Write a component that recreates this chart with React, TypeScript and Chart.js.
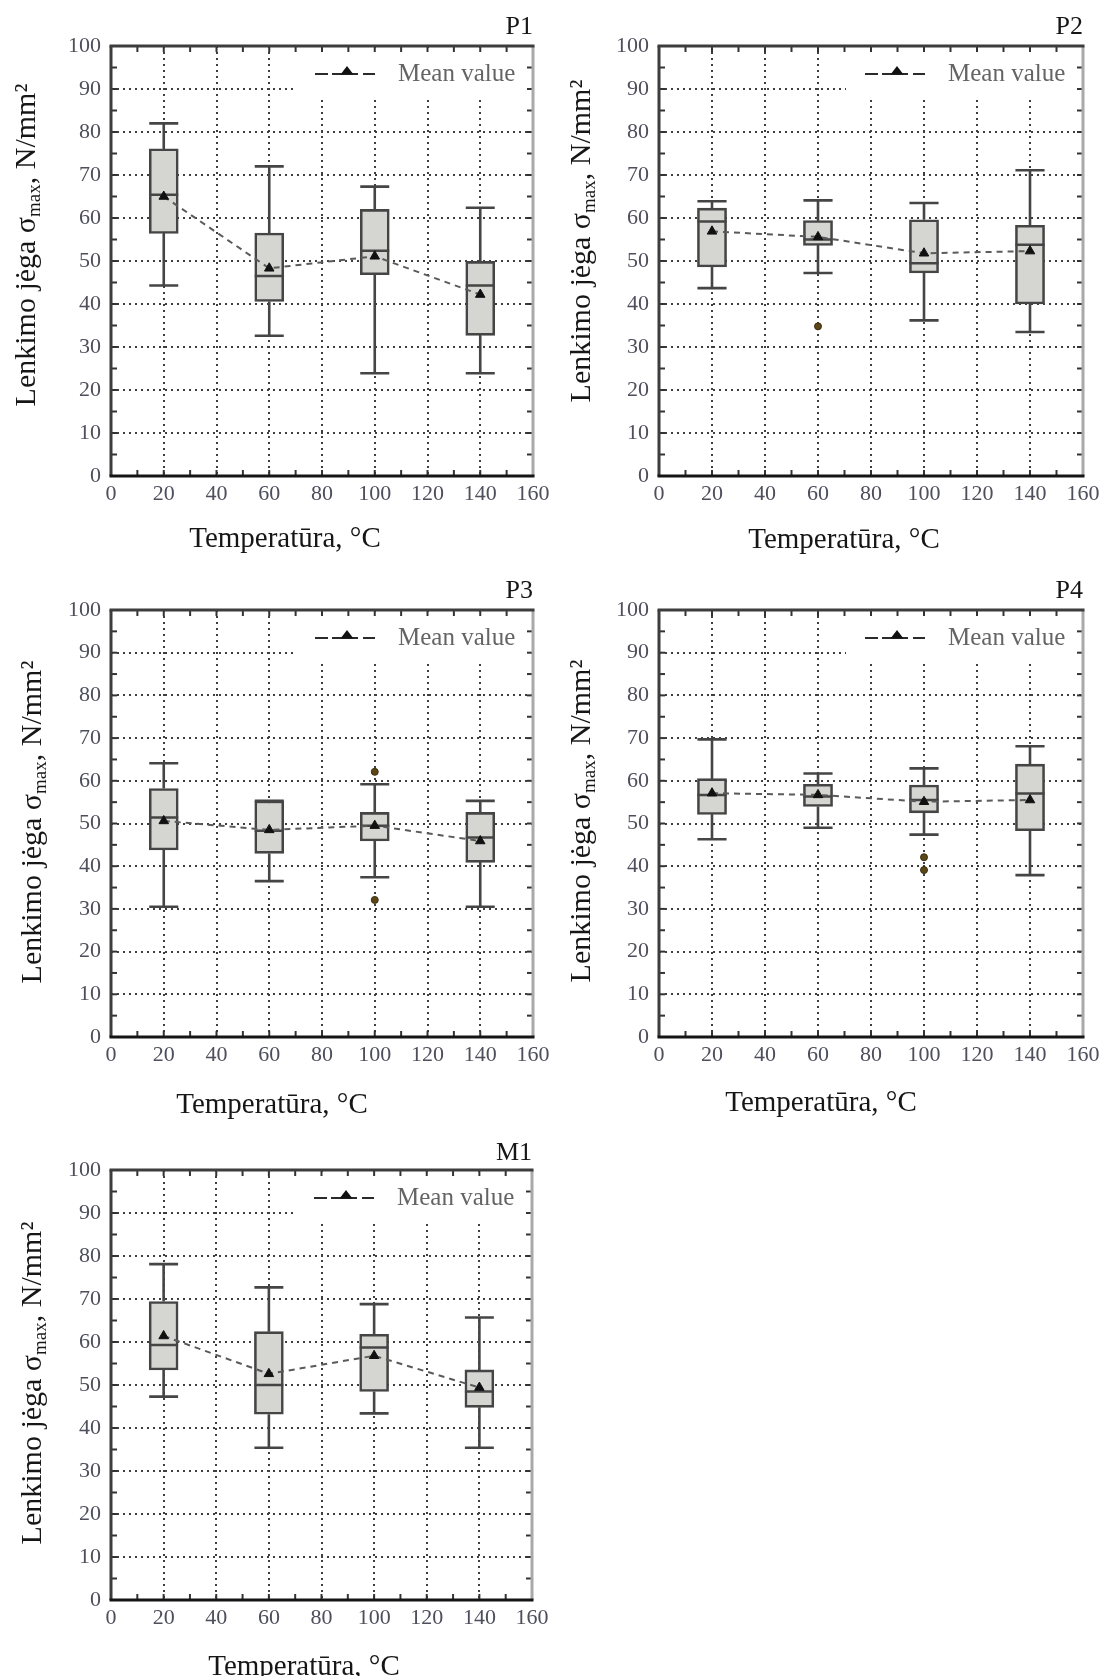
import React, { useEffect, useRef } from "react";
import { Chart, registerables } from "chart.js";

Chart.register(...registerables);

// Test temperatures, °C
const TEMPERATURES = [20, 60, 100, 140];
const X_TICKS = [0, 20, 40, 60, 80, 100, 120, 140, 160];
const Y_TICKS = [0, 10, 20, 30, 40, 50, 60, 70, 80, 90, 100];

// P1: whisker ends, quartiles, median, mean (N/mm²)
const P1_MIN = [44.3, 32.6, 23.9, 23.9];
const P1_Q1 = [56.4, 40.6, 46.8, 32.7];
const P1_MEDIAN = [65.4, 46.5, 52.4, 44.3];
const P1_Q3 = [76.1, 56.5, 62.0, 49.9];
const P1_MAX = [82.0, 72.0, 67.3, 62.4];
const P1_MEAN = [65.0, 48.3, 51.1, 42.2];
const P1_OUTLIER_T: number[] = [];
const P1_OUTLIER_V: number[] = [];

// P2
const P2_MIN = [43.7, 47.2, 36.2, 33.5];
const P2_Q1 = [48.6, 53.6, 47.2, 40.0];
const P2_MEDIAN = [59.2, 55.0, 49.5, 53.8];
const P2_Q3 = [62.3, 59.4, 59.6, 58.3];
const P2_MAX = [63.9, 64.1, 63.5, 71.1];
const P2_MEAN = [56.9, 55.6, 51.8, 52.3];
const P2_OUTLIER_T = [60];
const P2_OUTLIER_V = [34.8];

// P3
const P3_MIN = [30.5, 36.5, 37.4, 30.5];
const P3_Q1 = [43.8, 43.0, 45.9, 40.9];
const P3_MEDIAN = [51.4, 48.3, 49.5, 46.7];
const P3_Q3 = [58.2, 55.3, 52.6, 52.6];
const P3_MAX = [64.1, 55.3, 59.2, 55.3];
const P3_MEAN = [50.6, 48.5, 49.5, 45.9];
const P3_OUTLIER_T = [100, 100];
const P3_OUTLIER_V = [62.1, 32.1];

// P4
const P4_MIN = [46.3, 49.0, 47.4, 37.9];
const P4_Q1 = [52.1, 54.0, 52.5, 48.3];
const P4_MEDIAN = [56.7, 56.3, 55.5, 57.0];
const P4_Q3 = [60.5, 59.2, 59.0, 63.9];
const P4_MAX = [69.7, 61.7, 62.9, 68.1];
const P4_MEAN = [57.1, 56.7, 55.1, 55.5];
const P4_OUTLIER_T = [100, 100];
const P4_OUTLIER_V = [42.1, 39.1];

// M1
const M1_MIN = [47.3, 35.4, 43.4, 35.4];
const M1_Q1 = [53.5, 43.2, 48.5, 44.8];
const M1_MEDIAN = [59.3, 50.0, 58.7, 48.5];
const M1_Q3 = [69.4, 62.4, 61.8, 53.5];
const M1_MAX = [78.1, 72.7, 68.8, 65.7];
const M1_MEAN = [61.4, 52.6, 56.8, 49.4];
const M1_OUTLIER_T: number[] = [];
const M1_OUTLIER_V: number[] = [];

const X_TITLE = "Temperatūra, °C";
const Y_TITLE_MAIN = "Lenkimo jėga σ";
const Y_TITLE_SUB = "max";
const Y_TITLE_UNIT = ", N/mm²";
const LEGEND_LABEL = "Mean value";

type Series = {
  name: string;
  min: number[];
  q1: number[];
  median: number[];
  q3: number[];
  max: number[];
  mean: number[];
  outT: number[];
  outV: number[];
};

const SERIES: Series[] = [
  { name: "P1", min: P1_MIN, q1: P1_Q1, median: P1_MEDIAN, q3: P1_Q3, max: P1_MAX, mean: P1_MEAN, outT: P1_OUTLIER_T, outV: P1_OUTLIER_V },
  { name: "P2", min: P2_MIN, q1: P2_Q1, median: P2_MEDIAN, q3: P2_Q3, max: P2_MAX, mean: P2_MEAN, outT: P2_OUTLIER_T, outV: P2_OUTLIER_V },
  { name: "P3", min: P3_MIN, q1: P3_Q1, median: P3_MEDIAN, q3: P3_Q3, max: P3_MAX, mean: P3_MEAN, outT: P3_OUTLIER_T, outV: P3_OUTLIER_V },
  { name: "P4", min: P4_MIN, q1: P4_Q1, median: P4_MEDIAN, q3: P4_Q3, max: P4_MAX, mean: P4_MEAN, outT: P4_OUTLIER_T, outV: P4_OUTLIER_V },
  { name: "M1", min: M1_MIN, q1: M1_Q1, median: M1_MEDIAN, q3: M1_Q3, max: M1_MAX, mean: M1_MEAN, outT: M1_OUTLIER_T, outV: M1_OUTLIER_V },
];

// Panel placement on the page and inside each canvas
type Frame = {
  left: number;
  top: number;
  width: number;
  height: number;
  plot: [number, number, number, number]; // left, top, right, bottom
  nameBase: number;
  xTitle: [number, number]; // centre x, baseline y
  yTitle: [number, number]; // baseline x, centre y
};

const FRAMES: Frame[] = [
  { left: 0, top: 0, width: 553, height: 560, plot: [111, 46, 533, 476], nameBase: 34, xTitle: [285, 547], yTitle: [35, 245] },
  { left: 553, top: 0, width: 554, height: 560, plot: [106, 46, 530, 476], nameBase: 34, xTitle: [291, 548], yTitle: [37, 241] },
  { left: 0, top: 560, width: 553, height: 560, plot: [111, 50, 533, 477], nameBase: 38, xTitle: [272, 553], yTitle: [41, 262] },
  { left: 553, top: 560, width: 554, height: 560, plot: [106, 50, 530, 477], nameBase: 38, xTitle: [268, 551], yTitle: [37, 261] },
  { left: 0, top: 1120, width: 553, height: 556, plot: [111, 50, 532, 480], nameBase: 40, xTitle: [304, 555], yTitle: [41, 263] },
];

const FONT = '"Liberation Serif", "DejaVu Serif", serif';
const BOX_HALF = 5.5; // half box width in °C
const X_AXIS_H = 40;
const MINOR_X = 10;
const MINOR_Y = 5;
const INK = "#454545";
const BOX_FILL = "#d5d5d1";
const GRID = "#3e3e3e";
const TICK_TEXT = "#4e4e5c";

function line(ctx: CanvasRenderingContext2D, x1: number, y1: number, x2: number, y2: number) {
  ctx.beginPath();
  ctx.moveTo(x1, y1);
  ctx.lineTo(x2, y2);
  ctx.stroke();
}

function decorations(s: Series, f: Frame) {
  return {
    id: "panelDecor",
    beforeDatasetsDraw(chart: any) {
      // legend background hides the grid behind it
      const { ctx, chartArea: a } = chart;
      ctx.save();
      ctx.fillStyle = "#ffffff";
      ctx.fillRect(a.right - 237, a.top + 2, 235, 50);
      ctx.restore();
    },
    afterDatasetsDraw(chart: any) {
      const { ctx, chartArea: a } = chart;
      const xs = chart.scales.x;
      const ys = chart.scales.y;
      ctx.save();
      // inward tick marks on all four sides
      ctx.strokeStyle = "#333333";
      ctx.lineWidth = 2;
      for (let v = Y_TICKS[0]; v <= Y_TICKS[Y_TICKS.length - 1]; v += MINOR_Y) {
        const y = ys.getPixelForValue(v);
        line(ctx, a.left, y, a.left + 6, y);
        line(ctx, a.right - 6, y, a.right, y);
      }
      for (let v = X_TICKS[0]; v <= X_TICKS[X_TICKS.length - 1]; v += MINOR_X) {
        const x = xs.getPixelForValue(v);
        line(ctx, x, a.bottom, x, a.bottom - 6);
        line(ctx, x, a.top, x, a.top + 6);
      }
      // plot frame
      ctx.lineWidth = 3;
      ctx.strokeStyle = "#a9a9a9";
      line(ctx, a.right, a.top, a.right, a.bottom);
      ctx.strokeStyle = "#3d3d3d";
      line(ctx, a.left - 1.5, a.top, a.right + 1.5, a.top);
      line(ctx, a.left, a.top, a.left, a.bottom);
      ctx.strokeStyle = "#151515";
      line(ctx, a.left - 1.5, a.bottom, a.right + 1.5, a.bottom);

      // legend entry: dashed line with a triangle, then the label
      const ly = a.top + 28;
      ctx.strokeStyle = "#2a2a2a";
      ctx.lineWidth = 2;
      line(ctx, a.right - 218, ly, a.right - 205, ly);
      line(ctx, a.right - 201, ly, a.right - 175, ly);
      line(ctx, a.right - 170, ly, a.right - 158, ly);
      ctx.fillStyle = "#111111";
      ctx.beginPath();
      ctx.moveTo(a.right - 186, ly - 8);
      ctx.lineTo(a.right - 179.5, ly + 0.5);
      ctx.lineTo(a.right - 192.5, ly + 0.5);
      ctx.closePath();
      ctx.fill();
      ctx.font = `25px ${FONT}`;
      ctx.fillStyle = "#646464";
      ctx.textAlign = "left";
      ctx.textBaseline = "alphabetic";
      ctx.fillText(LEGEND_LABEL, a.right - 135, a.top + 35);
      ctx.restore();
    },
    afterDraw(chart: any) {
      const { ctx, chartArea: a } = chart;
      ctx.save();
      ctx.fillStyle = "#161616";
      ctx.textBaseline = "alphabetic";
      // panel name
      ctx.font = `26px ${FONT}`;
      ctx.textAlign = "right";
      ctx.fillText(s.name, a.right, f.nameBase);
      // x axis title
      ctx.font = `29px ${FONT}`;
      ctx.textAlign = "center";
      ctx.fillText(X_TITLE, f.xTitle[0], f.xTitle[1]);
      // y axis title with subscript
      const parts = [
        { t: Y_TITLE_MAIN, size: 30, dy: 0 },
        { t: Y_TITLE_SUB, size: 19, dy: 5 },
        { t: Y_TITLE_UNIT, size: 30, dy: 0 },
      ];
      let total = 0;
      const widths = parts.map((p) => {
        ctx.font = `${p.size}px ${FONT}`;
        const w = ctx.measureText(p.t).width;
        total += w;
        return w;
      });
      ctx.translate(f.yTitle[0], f.yTitle[1]);
      ctx.rotate(-Math.PI / 2);
      ctx.textAlign = "left";
      let x = -total / 2;
      parts.forEach((p, i) => {
        ctx.font = `${p.size}px ${FONT}`;
        ctx.fillText(p.t, x, p.dy);
        x += widths[i];
      });
      ctx.restore();
    },
  };
}

function makeConfig(s: Series, f: Frame): any {
  const [pl, pt, pr, pb] = f.plot;
  const span = X_TICKS[X_TICKS.length - 1] - X_TICKS[0];
  const barPx = ((pr - pl) / span) * BOX_HALF * 2;

  const whiskers: any[] = [];
  const caps: any[] = [];
  const medians: any[] = [];
  TEMPERATURES.forEach((t, i) => {
    whiskers.push(
      { x: t, y: s.min[i] }, { x: t, y: s.q1[i] }, { x: t, y: null },
      { x: t, y: s.q3[i] }, { x: t, y: s.max[i] }, { x: t, y: null }
    );
    caps.push(
      { x: t - BOX_HALF, y: s.min[i] }, { x: t + BOX_HALF, y: s.min[i] }, { x: t, y: null },
      { x: t - BOX_HALF, y: s.max[i] }, { x: t + BOX_HALF, y: s.max[i] }, { x: t, y: null }
    );
    medians.push({ x: t - BOX_HALF, y: s.median[i] }, { x: t + BOX_HALF, y: s.median[i] }, { x: t, y: null });
  });
  const boxes = TEMPERATURES.map((t, i) => ({ x: t, y: [s.q1[i], s.q3[i]] }));
  const means = TEMPERATURES.map((t, i) => ({ x: t, y: s.mean[i] }));
  const outliers = s.outT.map((t, i) => ({ x: t, y: s.outV[i] }));

  const tickFont = { family: FONT, size: 22 };

  return {
    type: "line",
    data: {
      datasets: [
        { type: "line", data: whiskers, borderColor: INK, borderWidth: 2.6, pointRadius: 0, spanGaps: false, order: 5 },
        { type: "line", data: caps, borderColor: INK, borderWidth: 2.6, pointRadius: 0, spanGaps: false, order: 5 },
        {
          type: "bar", data: boxes, backgroundColor: BOX_FILL, borderColor: INK, borderWidth: 2.6,
          borderSkipped: false, barThickness: barPx, order: 4,
        },
        { type: "line", data: medians, borderColor: INK, borderWidth: 2.5, pointRadius: 0, spanGaps: false, order: 3 },
        {
          type: "scatter", data: outliers, pointRadius: 3.5, pointBackgroundColor: "#5b4716",
          pointBorderColor: "#3a2e10", pointBorderWidth: 1, order: 2,
        },
        {
          type: "line", data: means, borderColor: "#5a5a5a", borderWidth: 2, borderDash: [6, 5],
          pointStyle: "triangle", pointRadius: 5.5, pointBackgroundColor: "#111111",
          pointBorderColor: "#111111", pointBorderWidth: 1, tension: 0, order: 1,
        },
      ],
    },
    options: {
      animation: false,
      responsive: false,
      maintainAspectRatio: false,
      devicePixelRatio: 1,
      layout: { padding: { left: 0, top: pt, right: f.width - pr, bottom: f.height - pb - X_AXIS_H } },
      plugins: { legend: { display: false }, tooltip: { enabled: false }, title: { display: false } },
      scales: {
        x: {
          type: "linear",
          min: X_TICKS[0],
          max: X_TICKS[X_TICKS.length - 1],
          offset: false,
          afterBuildTicks: (sc: any) => { sc.ticks = X_TICKS.map((v) => ({ value: v })); },
          afterFit: (sc: any) => { sc.height = X_AXIS_H; sc.paddingLeft = 0; sc.paddingRight = 0; },
          grid: { offset: false, color: GRID, lineWidth: 2, drawTicks: false },
          border: { display: false, dash: [2, 4] },
          ticks: { font: tickFont, color: TICK_TEXT, padding: 5, maxRotation: 0, autoSkip: false },
        },
        y: {
          type: "linear",
          min: Y_TICKS[0],
          max: Y_TICKS[Y_TICKS.length - 1],
          afterBuildTicks: (sc: any) => { sc.ticks = Y_TICKS.map((v) => ({ value: v })); },
          afterFit: (sc: any) => { sc.width = pl; sc.paddingTop = 0; sc.paddingBottom = 0; },
          grid: { color: GRID, lineWidth: 2, drawTicks: false },
          border: { display: false, dash: [2, 4] },
          ticks: { font: tickFont, color: TICK_TEXT, padding: 10, autoSkip: false },
        },
      },
    },
    plugins: [decorations(s, f)],
  };
}

function Panel({ series, frame }: { series: Series; frame: Frame }) {
  const ref = useRef<HTMLCanvasElement>(null);
  useEffect(() => {
    if (!ref.current) return;
    const chart = new Chart(ref.current, makeConfig(series, frame));
    return () => chart.destroy();
  }, [series, frame]);
  return (
    <canvas
      ref={ref}
      width={frame.width}
      height={frame.height}
      style={{ position: "absolute", left: frame.left, top: frame.top, width: frame.width, height: frame.height }}
    />
  );
}

export default function App() {
  return (
    <div style={{ position: "absolute", left: 0, top: 0, width: 1107, height: 1676, background: "#ffffff", overflow: "hidden" }}>
      {SERIES.map((s, i) => (
        <Panel key={s.name} series={s} frame={FRAMES[i]} />
      ))}
    </div>
  );
}
